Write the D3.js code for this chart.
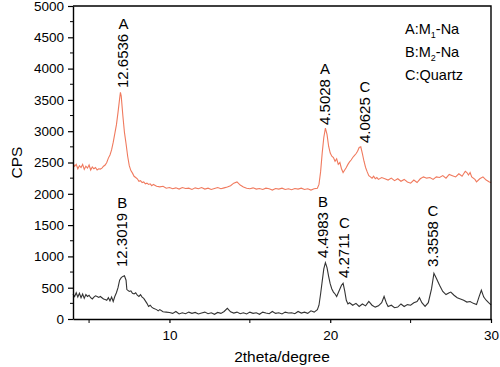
<!DOCTYPE html>
<html>
<head>
<meta charset="utf-8">
<script src="https://cdn.jsdelivr.net/npm/d3@7"></script>
<style>
  body { margin: 0; background: #fff; }
  text { font-family: Arial, "Liberation Sans", sans-serif; fill: #000; }
</style>
</head>
<body>
<div id="graph"></div>
<script>
// XRD patterns of the two Na-modified samples
var redTheta = [4.0,4.1,4.2,4.3,4.4,4.5,4.6,4.7,4.8,4.9,5.0,5.1,5.2,5.3,5.4,5.5,5.6,5.7,5.8,5.9,
  6.0,6.1,6.2,6.3,6.4,6.5,6.6,6.7,6.8,6.9,6.95,7.0,7.1,7.2,7.3,7.4,7.5,7.6,7.7,7.8,7.9,
  8.0,8.1,8.2,8.3,8.4,8.5,8.6,8.7,8.8,8.9,9.0,9.2,9.4,9.6,9.8,
  10.0,10.2,10.4,10.6,10.8,11.0,11.2,11.4,11.6,11.8,12.0,12.2,12.4,12.6,12.8,
  13.0,13.2,13.4,13.6,13.8,14.0,14.2,14.4,14.6,14.8,15.0,15.2,15.4,15.6,15.8,
  16.0,16.2,16.4,16.6,16.8,17.0,17.2,17.4,17.6,17.8,18.0,18.2,18.4,18.6,18.8,
  19.0,19.2,19.3,19.4,19.5,19.6,19.7,19.8,19.9,20.0,20.1,20.2,20.3,20.4,20.5,20.6,20.7,20.8,20.9,
  21.0,21.1,21.2,21.3,21.4,21.5,21.6,21.7,21.8,21.9,22.0,22.1,22.2,22.3,22.4,22.5,22.6,22.7,22.8,22.9,
  23.0,23.2,23.4,23.6,23.8,24.0,24.2,24.4,24.6,24.8,25.0,25.2,25.4,25.6,25.8,
  26.0,26.2,26.4,26.6,26.8,27.0,27.2,27.4,27.6,27.8,28.0,28.2,28.4,28.5,28.6,28.7,28.8,
  29.0,29.1,29.3,29.5,29.7,29.9,30.0];
var redCPS = [2490,2440,2470,2400,2450,2420,2470,2390,2440,2410,2460,2380,2430,2400,2420,2380,2400,2395,2410,2440,
  2460,2500,2570,2620,2700,2820,2960,3100,3300,3520,3620,3560,3250,2980,2800,2600,2450,2370,2330,2280,2260,
  2240,2200,2210,2180,2190,2160,2170,2150,2160,2130,2150,2120,2110,2120,2090,
  2100,2080,2095,2075,2100,2085,2090,2070,2095,2080,2100,2075,2090,2070,2085,
  2100,2080,2095,2110,2130,2170,2190,2140,2110,2090,2080,2095,2075,2085,2070,
  2090,2080,2060,2085,2075,2090,2070,2080,2065,2085,2075,2090,2070,2080,2060,
  2080,2090,2150,2350,2650,2900,3050,2950,2760,2650,2600,2580,2520,2560,2470,2500,2400,2340,2380,
  2420,2470,2510,2540,2580,2610,2640,2680,2740,2750,2640,2520,2420,2350,2290,2270,2250,2280,2240,2260,
  2230,2260,2240,2220,2250,2210,2240,2200,2230,2190,2170,2220,2180,2240,2270,
  2250,2260,2230,2270,2260,2290,2250,2310,2290,2270,2320,2280,2360,2340,2300,2340,2270,
  2230,2190,2240,2270,2220,2190,2180];

var blackTheta = [4.0,4.1,4.2,4.3,4.4,4.5,4.6,4.7,4.8,4.9,5.0,5.1,5.2,5.3,5.4,5.5,5.6,5.7,5.8,5.9,
  6.0,6.1,6.2,6.3,6.4,6.5,6.6,6.7,6.8,6.9,7.0,7.1,7.2,7.3,7.35,7.5,7.6,7.7,7.8,7.9,
  8.0,8.1,8.2,8.3,8.4,8.5,8.6,8.7,8.8,8.9,9.0,9.2,9.3,9.4,9.6,9.8,
  10.0,10.2,10.4,10.6,10.8,11.0,11.2,11.4,11.6,11.8,12.0,12.2,12.4,12.6,12.8,
  13.0,13.2,13.4,13.6,13.8,14.0,14.2,14.4,14.6,14.8,15.0,15.2,15.4,15.6,15.8,
  16.0,16.2,16.4,16.6,16.8,17.0,17.2,17.4,17.6,17.8,18.0,18.2,18.4,18.6,18.8,
  19.0,19.2,19.3,19.4,19.5,19.6,19.7,19.8,19.9,20.0,20.1,20.2,20.3,20.4,20.5,20.6,20.7,20.8,20.9,
  21.0,21.1,21.2,21.4,21.6,21.8,22.0,22.2,22.4,22.6,22.8,23.0,23.2,23.35,23.5,23.6,23.8,
  24.0,24.2,24.4,24.6,24.8,25.0,25.2,25.4,25.55,25.7,25.9,26.1,26.3,26.45,26.6,26.8,
  27.0,27.2,27.4,27.5,27.7,27.9,28.1,28.3,28.5,28.7,28.9,29.1,29.25,29.4,29.55,29.7,29.85,30.0];
var blackCPS = [400,360,420,350,410,340,400,330,390,360,380,340,320,350,370,360,345,360,340,320,
  310,300,340,290,350,280,360,420,500,620,660,680,690,620,470,440,450,410,400,420,
  380,360,390,350,330,290,250,200,220,190,170,150,130,150,115,110,
  105,90,120,80,100,85,110,90,105,80,95,110,85,100,75,
  105,90,120,170,115,95,110,85,100,80,110,90,100,75,110,
  95,85,120,90,100,80,110,95,100,85,120,95,110,90,130,
  110,150,220,400,600,800,900,820,680,560,480,430,400,360,420,480,540,570,450,
  300,240,260,220,250,200,240,210,280,220,190,210,260,360,250,200,220,
  180,190,240,200,230,220,260,280,340,260,200,260,480,730,650,540,
  440,390,420,430,380,340,320,300,270,280,250,230,350,460,350,300,260,225];

// peak annotations: where the rotated d-spacing text starts and its phase letter
var peakTheta = [7.14, 19.67, 22.16, 7.06, 19.55, 20.88, 26.38];
var peakCPS = [3690, 3100, 2810, 830, 975, 655, 830];
var peakD = ["12.6536", "4.5028", "4.0625", "12.3019", "4.4983", "4.2711", "3.3558"];
var peakPhase = ["A", "A", "C", "B", "B", "C", "C"];

var xTicks = [10, 20, 30];
var xMinorTicks = [5, 15, 25];
var yTicks = [0, 500, 1000, 1500, 2000, 2500, 3000, 3500, 4000, 4500, 5000];
var yMinorTicks = [250, 750, 1250, 1750, 2250, 2750, 3250, 3750, 4250, 4750];

var legendKeys = ["A", "B", "C"];
var legendMain = ["M", "M", "Quartz"];
var legendSub = ["1", "2", ""];
var legendTail = ["-Na", "-Na", ""];

var W = 500, H = 367;
var margin = {top: 6, right: 9, bottom: 48, left: 73};

var svg = d3.select("#graph").append("svg")
    .attr("width", W)
    .attr("height", H);

var x = d3.scaleLinear().domain([4, 30]).range([margin.left, W - margin.right]);
var y = d3.scaleLinear().domain([0, 5000]).range([H - margin.bottom, margin.top]);

// lines
var line = d3.line()
    .x(function(d) { return x(d[0]); })
    .y(function(d) { return y(d[1]); });

svg.append("path")
    .datum(d3.zip(redTheta, redCPS))
    .attr("d", line)
    .style("fill", "none")
    .style("stroke", "#f07a5e")
    .style("stroke-width", 1.1);

svg.append("path")
    .datum(d3.zip(blackTheta, blackCPS))
    .attr("d", line)
    .style("fill", "none")
    .style("stroke", "#333")
    .style("stroke-width", 1.1);

// axes
var xAxis = svg.append("g")
    .attr("transform", "translate(0," + y(0) + ")")
    .call(d3.axisBottom(x).tickValues(xTicks).tickFormat(d3.format("d"))
      .tickSize(4).tickSizeOuter(0).tickPadding(7));
xAxis.selectAll("text").style("font-size", "13.5px");
xAxis.append("g").selectAll("line")
    .data(xMinorTicks).enter().append("line")
    .attr("x1", function(d) { return x(d); })
    .attr("x2", function(d) { return x(d); })
    .attr("y1", 0).attr("y2", 4)
    .attr("stroke", "#000");

var yAxis = svg.append("g")
    .attr("transform", "translate(" + x(4) + ",0)")
    .call(d3.axisLeft(y).tickValues(yTicks).tickFormat(d3.format("d"))
      .tickSize(5).tickSizeOuter(0).tickPadding(4));
yAxis.selectAll("text").style("font-size", "13.5px");
yAxis.append("g").selectAll("line")
    .data(yMinorTicks).enter().append("line")
    .attr("y1", function(d) { return y(d); })
    .attr("y2", function(d) { return y(d); })
    .attr("x1", 0).attr("x2", -3)
    .attr("stroke", "#000");

svg.selectAll(".domain").style("stroke-width", 1.4);
svg.selectAll(".tick line").style("stroke-width", 1.2);

// top and right frame
svg.append("path")
    .attr("d", "M" + x(4) + "," + y(5000) + "H" + x(30) + "V" + y(0))
    .style("fill", "none")
    .style("stroke", "#000")
    .style("stroke-width", 1.4);

// axis titles
svg.append("text")
    .attr("x", (x(4) + x(30)) / 2)
    .attr("y", 362)
    .attr("text-anchor", "middle")
    .style("font-size", "15.5px")
    .text("2theta/degree");

svg.append("text")
    .attr("transform", "translate(22," + y(2500) + ") rotate(-90)")
    .attr("text-anchor", "middle")
    .style("font-size", "15.5px")
    .text("CPS");

// peak labels
peakD.forEach(function(d, i) {
  var px = x(peakTheta[i]), py = y(peakCPS[i]);
  var t = svg.append("text")
      .attr("transform", "translate(" + (px + 5) + "," + py + ") rotate(-90)")
      .style("font-size", "15px")
      .text(d);
  var len = t.node().getComputedTextLength();
  svg.append("text")
      .attr("x", px)
      .attr("y", py - len - 5)
      .attr("text-anchor", "middle")
      .style("font-size", "15px")
      .text(peakPhase[i]);
});

// legend
legendKeys.forEach(function(k, i) {
  var t = svg.append("text")
      .attr("x", 405)
      .attr("y", 34 + i * 23)
      .style("font-size", "14.5px");
  t.append("tspan").text(k + ":" + legendMain[i]);
  if (legendSub[i]) {
    t.append("tspan").attr("dy", 4).style("font-size", "9px").text(legendSub[i]);
    t.append("tspan").attr("dy", -4).text(legendTail[i]);
  }
});
</script>
</body>
</html>
